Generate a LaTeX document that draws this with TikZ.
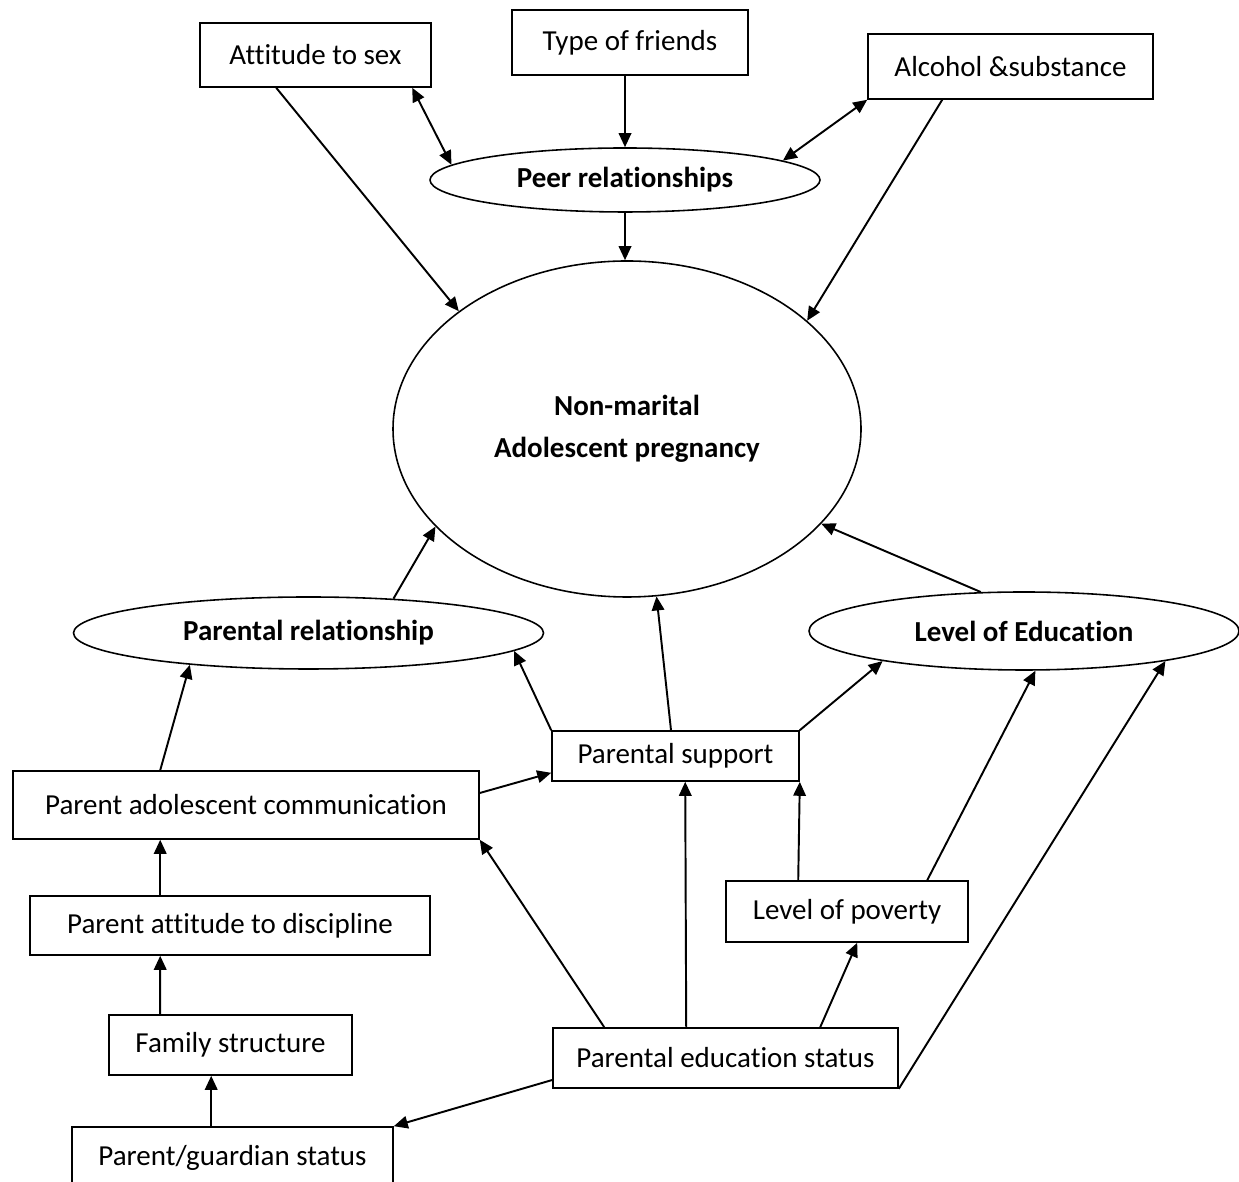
\documentclass[tikz,border=0pt]{standalone}
\usepackage{fontspec}
\setmainfont{Carlito}[Ligatures=NoCommon]
\usetikzlibrary{arrows.meta, shapes.geometric}

\begin{document}
\begin{tikzpicture}[
  box/.style={draw, line width=0.9pt, inner sep=0pt,
              font=\fontsize{16.5}{20}\selectfont, align=center},
  oval/.style={draw, ellipse, line width=0.9pt, inner sep=0pt,
               font=\fontsize{16.5}{23.8}\selectfont\bfseries, align=center},
  arr/.style={-{Triangle[length=0.28cm, width=0.25cm]}, line width=1.1pt},
  biarr/.style={{Triangle[length=0.28cm, width=0.25cm]}-{Triangle[length=0.28cm, width=0.25cm]}, line width=1.1pt}
]
\useasboundingbox (0,0) rectangle (24.78,23.62);
\clip (0,0) rectangle (24.78,23.62);

\node[box, minimum width=4.62cm, minimum height=1.28cm] (sex) at (6.31,22.52) {Attitude to sex};
\node[box, minimum width=4.72cm, minimum height=1.30cm] (friends) at (12.60,22.77) {Type of friends};
\node[box, minimum width=5.70cm, minimum height=1.30cm] (alcohol) at (20.21,22.29) {Alcohol \&substance};
\node[oval, minimum width=7.80cm, minimum height=1.28cm] (peer) at (12.50,20.02) {Peer relationships};
\node[oval, minimum width=9.36cm, minimum height=6.72cm] (preg) at (12.54,15.04) {Non-marital\\Adolescent pregnancy};
\node[oval, minimum width=9.40cm, minimum height=1.44cm] (parrel) at (6.17,10.96) {Parental relationship};
\node[oval, minimum width=8.60cm, minimum height=1.56cm] (educ) at (20.48,11.00) {Level of Education};
\node[box, minimum width=4.94cm, minimum height=1.00cm] (support) at (13.51,8.50) {Parental support};
\node[box, minimum width=9.32cm, minimum height=1.36cm] (comm) at (4.92,7.52) {Parent adolescent communication};
\node[box, minimum width=8.00cm, minimum height=1.18cm] (discip) at (4.60,5.11) {Parent attitude to discipline};
\node[box, minimum width=4.84cm, minimum height=1.22cm] (poverty) at (16.94,5.39) {Level of poverty};
\node[box, minimum width=4.86cm, minimum height=1.20cm] (family) at (4.61,2.72) {Family structure};
\node[box, minimum width=6.90cm, minimum height=1.20cm] (pedu) at (14.51,2.46) {Parental education status};
\node[box, minimum width=6.42cm, minimum height=1.24cm] (guard) at (4.65,0.46) {Parent/guardian status};

\draw[arr] ([xshift=1.54cm]sex.south west) -- (preg.145);
\draw[biarr] ([xshift=4.26cm]sex.south west) -- (peer.175);
\draw[arr] (friends.south -| peer.north) -- (peer.north);
\draw[biarr] (alcohol.south west) -- (peer.7.5);
\draw[arr] ([xshift=1.5cm]alcohol.south west) -- (preg.31);
\draw[arr] (peer.south) -- (peer.south |- preg.north);

\draw[arr] (parrel.22) -- (preg.207.5);
\draw[arr] ([xshift=-0.09cm]support.north) -- (preg.280);
\draw[arr] (educ.138) -- (preg.334);
\draw[arr] (support.north west) -- (parrel.355);
\draw[arr] (support.north east) -- (educ.192);
\draw[arr] ([xshift=2.96cm]comm.north west) -- (parrel.195);
\draw[arr] ([yshift=0.24cm]comm.east) -- ([yshift=0.18cm]support.south west);

\draw[arr] ([xshift=2.62cm]discip.north west) -- ([xshift=2.96cm]comm.south west);
\draw[arr] ([xshift=1.04cm]family.north west) -- ([xshift=2.62cm]discip.south west);
\draw[arr] ([xshift=2.80cm]guard.north west) -- ([xshift=2.06cm]family.south west);
\draw[arr] ([yshift=-0.44cm]pedu.west) -- (guard.north east);
\draw[arr] ([xshift=1.04cm]pedu.north west) -- (comm.south east);
\draw[arr] ([xshift=2.68cm]pedu.north west) -- ([xshift=2.68cm]support.south west);
\draw[arr] ([xshift=5.36cm]pedu.north west) -- ([xshift=2.64cm]poverty.south west);
\draw[arr] (pedu.south east) -- (educ.348);
\draw[arr] ([xshift=1.46cm]poverty.north west) -- (support.south east);
\draw[arr] ([xshift=4.04cm]poverty.north west) -- (educ.286);
\end{tikzpicture}
\end{document}
